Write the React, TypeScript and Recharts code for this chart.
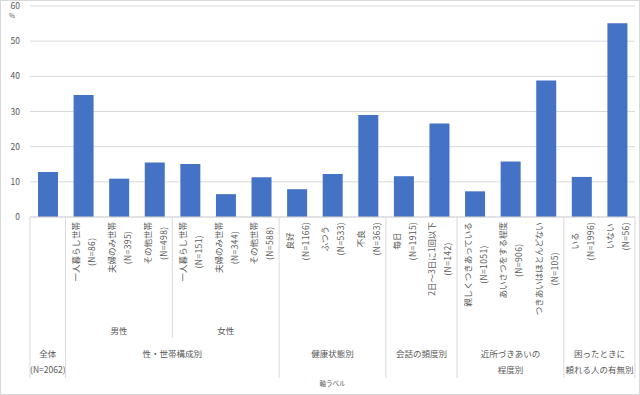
import { BarChart, Bar, XAxis, YAxis, CartesianGrid, Label } from "recharts";

const categories = [
  "",
  "一人暮らし世帯",
  "夫婦のみ世帯",
  "その他世帯",
  "一人暮らし世帯",
  "夫婦のみ世帯",
  "その他世帯",
  "良好",
  "ふつう",
  "不良",
  "毎日",
  "2日～3日に1回以下",
  "親しくつきあっている",
  "あいさつをする程度",
  "つきあいはほとんどない",
  "いる",
  "いない",
];
const sampleSizes = [
  "",
  "(N=86)",
  "(N=395)",
  "(N=498)",
  "(N=151)",
  "(N=344)",
  "(N=588)",
  "(N=1166)",
  "(N=533)",
  "(N=363)",
  "(N=1915)",
  "(N=142)",
  "(N=1051)",
  "(N=906)",
  "(N=105)",
  "(N=1996)",
  "(N=56)",
];
const values = [12.8, 34.7, 10.9, 15.5, 15.1, 6.5, 11.3, 7.9, 12.2, 29.0, 11.6, 26.6, 7.3, 15.8, 38.8, 11.4, 55.1];
const yTicks = [0, 10, 20, 30, 40, 50, 60];

// second level (sex)
const subGroupLabels = ["男性", "女性"];
const subGroupStarts = [1, 4];
const subGroupSizes = [3, 3];

// top level
const topGroupLabels = [
  ["全体", "(N=2062)"],
  ["性・世帯構成別"],
  ["健康状態別"],
  ["会話の頻度別"],
  ["近所づきあいの", "程度別"],
  ["困ったときに", "頼れる人の有無別"],
];
const topGroupStarts = [0, 1, 7, 10, 12, 15];
const topGroupSizes = [1, 6, 3, 2, 3, 2];

const W = 640;
const H = 395;
const MARGIN = { top: 6, right: 5, left: 0, bottom: 8 };
const Y_W = 30;
const X_H = 170;
const PLOT_W = W - MARGIN.left - MARGIN.right - Y_W;
const AXIS_Y = H - MARGIN.bottom - X_H;
const BAND = PLOT_W / categories.length;

const FONT = "'Noto Sans CJK JP', 'Noto Sans', sans-serif";
const TEXT = "#595959";
const LINE = "#d9d9d9";
const FS = 8.5;

const data = categories.map((c, i) => ({ name: c + "|" + i, value: values[i] }));

function textLen(s: string) {
  let n = 0;
  for (const ch of s) n += ch.charCodeAt(0) > 0x2000 ? FS : FS * 0.56;
  return n;
}

function CategoryTick(props: any) {
  const { x, index } = props;
  const i = index as number;
  const label = categories[i];
  const n = sampleSizes[i];
  const cy = AXIS_Y + 5 + Math.max(textLen(label), textLen(n)) / 2;
  const left = x - BAND / 2;
  const parts: any[] = [];

  const top = topGroupStarts.indexOf(i);
  const sub = subGroupStarts.indexOf(i);
  if (top >= 0) {
    parts.push(<line key="ls" x1={left} x2={left} y1={AXIS_Y} y2={378} stroke={LINE} />);
    const gx = left + (topGroupSizes[top] * BAND) / 2;
    topGroupLabels[top].forEach((t, k) =>
      parts.push(
        <text key={"t" + k} x={gx} y={353 + k * 16} textAnchor="middle" dominantBaseline="central" fontSize={FS} fill={TEXT}>
          {t}
        </text>
      )
    );
  } else if (sub >= 0) {
    parts.push(<line key="ls" x1={left} x2={left} y1={AXIS_Y} y2={338} stroke={LINE} />);
  }
  if (sub >= 0) {
    const gx = left + (subGroupSizes[sub] * BAND) / 2;
    parts.push(
      <text key="sub" x={gx} y={330} textAnchor="middle" dominantBaseline="central" fontSize={FS} fill={TEXT}>
        {subGroupLabels[sub]}
      </text>
    );
  }
  if (i === categories.length - 1) {
    parts.push(<line key="rs" x1={left + BAND} x2={left + BAND} y1={AXIS_Y} y2={378} stroke={LINE} />);
  }
  if (label) {
    parts.push(
      <text key="c" x={x - 8} y={cy} transform={`rotate(-90 ${x - 8} ${cy})`} textAnchor="middle" dominantBaseline="central" fontSize={FS} fill={TEXT}>
        {label}
      </text>,
      <text key="n" x={x + 8} y={cy} transform={`rotate(-90 ${x + 8} ${cy})`} textAnchor="middle" dominantBaseline="central" fontSize={FS} fill={TEXT} letterSpacing={0.4}>
        {n}
      </text>
    );
  }
  return <g style={{ fontFamily: FONT }}>{parts}</g>;
}

export default function App() {
  return (
    <div style={{ position: "absolute", left: 0, top: 0, width: W, height: H, fontFamily: FONT, background: "#fff" }}>
      <BarChart width={W} height={H} data={data} margin={MARGIN}>
        <CartesianGrid vertical={false} stroke={LINE} />
        <XAxis
          dataKey="name"
          height={X_H}
          interval={0}
          tickLine={false}
          axisLine={{ stroke: LINE }}
          tick={<CategoryTick />}
        >
          <Label
            content={(p: any) => (
              <text
                x={p.viewBox.x + p.viewBox.width / 2}
                y={383}
                fontSize={6.5}
                fill={TEXT}
                textAnchor="middle"
                dominantBaseline="central"
              >
                軸ラベル
              </text>
            )}
          />
        </XAxis>
        <YAxis
          width={Y_W}
          domain={[0, 60]}
          ticks={yTicks}
          tickLine={false}
          axisLine={false}
          tickMargin={4}
          tick={{ fontSize: FS, fill: TEXT }}
        >
          <Label
            content={(p: any) => (
              <text x={p.viewBox.x + 12} y={p.viewBox.y + 9} fontSize={6.5} fill={TEXT} textAnchor="middle" dominantBaseline="central">
                %
              </text>
            )}
          />
        </YAxis>
        <Bar dataKey="value" fill="#4472C4" barSize={20} isAnimationActive={false} />
      </BarChart>
      <div style={{ position: "absolute", inset: 0, border: "1px solid #d9d9d9", pointerEvents: "none" }} />
    </div>
  );
}
